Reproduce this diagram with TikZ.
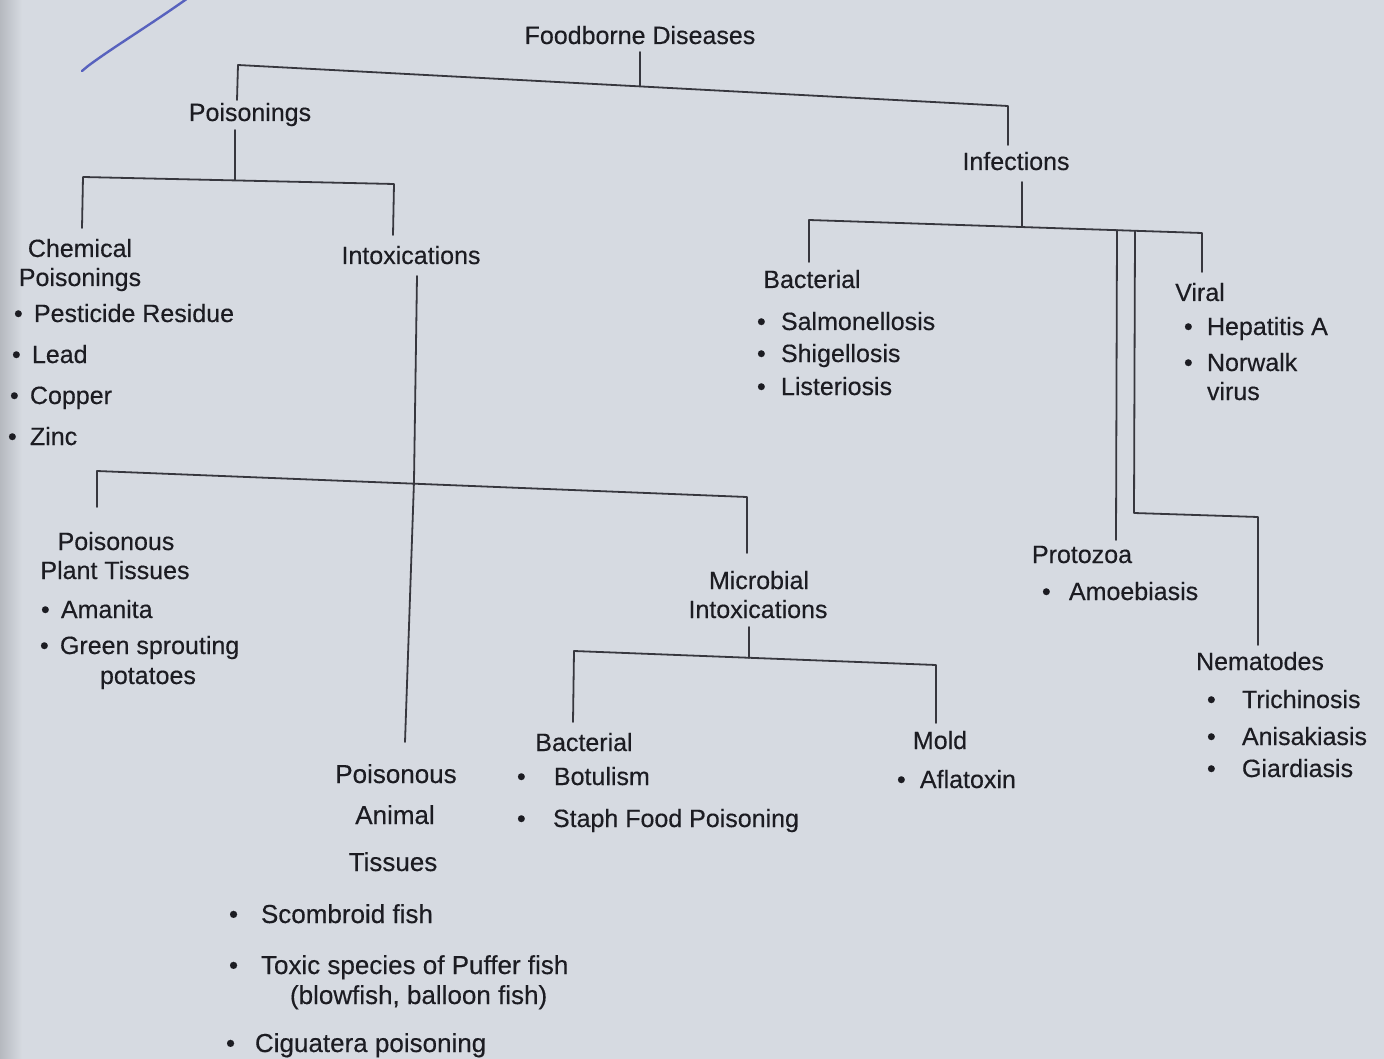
\documentclass[tikz,border=0pt]{standalone}
\usepackage{fontspec}
\setmainfont[FakeBold=0.35]{Liberation Sans}
\definecolor{pagebg}{RGB}{214,218,225}
\definecolor{ink}{RGB}{28,28,34}
\definecolor{rule}{RGB}{55,55,62}
\definecolor{pen}{RGB}{88,98,190}
\newcommand{\bul}[2]{\makebox[#1pt][l]{•}#2}
\begin{document}
\begin{tikzpicture}[x=1pt,y=-1pt,
  lbl/.style={inner sep=0pt,outer sep=0pt,text=ink,font=\fontsize{25}{29}\selectfont},
  big/.style={font=\fontsize{26}{30}\selectfont},
  hd/.style={lbl,anchor=base},
  itm/.style={lbl,anchor=base west},
  conn/.style={draw=rule,line width=1.8pt,line cap=round,line join=round}]
\useasboundingbox (0,0) rectangle (1384,1059);
\fill[pagebg] (0,0) rectangle (1384,1059);
\shade[left color=pagebg!85!black, right color=pagebg] (0,0) rectangle (22,1059);
% pen mark
\draw[pen,line width=2.4pt,line cap=round] (188,-2) .. controls (150,25) and (112,48) .. (88,66) -- (82,71);

% ---------- nodes ----------
\node[hd] (root) at (640,44) {Foodborne Diseases};
\node[hd] (pois) at (250,121) {Poisonings};
\node[hd] (inf) at (1016,170) {Infections};
\node[hd] (chemA) at (80,257) {Chemical};
\node[hd] (chemB) at (80,286) {Poisonings};
\node[hd] (intox) at (411,264) {Intoxications};
\node[itm] (c1) at (14,322) {\bul{20}{Pesticide Residue}};
\node[itm] (c2) at (12,363) {\bul{20}{Lead}};
\node[itm] (c3) at (10,404) {\bul{20}{Copper}};
\node[itm] (c4) at (8,445) {\bul{22}{Zinc}};

\node[hd] (bacI) at (812,288) {Bacterial};
\node[itm] (b1) at (757,330) {\bul{24}{Salmonellosis}};
\node[itm] (b2) at (757,362) {\bul{24}{Shigellosis}};
\node[itm] (b3) at (757,395) {\bul{24}{Listeriosis}};

\node[hd] (viral) at (1200,301) {Viral};
\node[itm] (v1) at (1184,335) {\bul{23}{Hepatitis A}};
\node[itm] (v2) at (1184,371) {\bul{23}{Norwalk}};
\node[itm] (v3) at (1207,400) {virus};

\node[hd] (proto) at (1082,563) {Protozoa};
\node[itm] (p1) at (1042,600) {\bul{27}{Amoebiasis}};

\node[hd] (nema) at (1260,670) {Nematodes};
\node[itm] (n1) at (1207,708) {\bul{35}{Trichinosis}};
\node[itm] (n2) at (1207,745) {\bul{35}{Anisakiasis}};
\node[itm] (n3) at (1207,777) {\bul{35}{Giardiasis}};

\node[hd] (plantA) at (116,550) {Poisonous};
\node[hd] (plantB) at (115,579) {Plant Tissues};
\node[itm] (pl1) at (41,618) {\bul{20}{Amanita}};
\node[itm] (pl2) at (40,654) {\bul{20}{Green sprouting}};
\node[itm] (pl3) at (100,684) {potatoes};

\node[hd] (microA) at (759,589) {Microbial};
\node[hd] (microB) at (758,618) {Intoxications};
\node[hd] (bacM) at (584,751) {Bacterial};
\node[itm] (m1) at (517,785) {\bul{37}{Botulism}};
\node[itm] (m2) at (517,827) {\bul{36}{Staph Food Poisoning}};
\node[hd] (mold) at (940,749) {Mold};
\node[itm] (mo1) at (897,788) {\bul{23}{Aflatoxin}};

\node[hd,big] (animA) at (396,783) {Poisonous};
\node[hd,big] (animB) at (395,824) {Animal};
\node[hd,big] (animC) at (393,871) {Tissues};
\node[itm,big] (a1) at (229,923) {\bul{32}{Scombroid fish}};
\node[itm,big] (a2) at (229,974) {\bul{32}{Toxic species of Puffer fish}};
\node[itm,big] (a2b) at (290,1004) {(blowfish, balloon fish)};
\node[itm,big] (a3) at (226,1052) {\bul{29}{Ciguatera poisoning}};

% ---------- junction coordinates ----------
\coordinate (rootS) at (640,52);
\coordinate (rootJ) at (640,86);
\coordinate (barL) at (238,65);
\coordinate (barR) at (1008,106);
\coordinate (poisN) at (237,100);
\coordinate (infN) at (1008,145);

\coordinate (poisS) at (235,130);
\coordinate (poisJ) at (235,180);
\coordinate (pbarL) at (83,177);
\coordinate (pbarR) at (394,184);
\coordinate (chemN) at (82,228);
\coordinate (intoxN) at (393,235);

\coordinate (infS) at (1022,182);
\coordinate (infJ) at (1022,227);
\coordinate (ibarL) at (809,220);
\coordinate (ibarR) at (1202,233);
\coordinate (ibarP) at (1117,230);
\coordinate (ibarQ) at (1135,231);
\coordinate (bacIN) at (809,262);
\coordinate (viralN) at (1202,272);
\coordinate (protoN) at (1116,540);
\coordinate (nemaK1) at (1134,513);
\coordinate (nemaK2) at (1258,517);
\coordinate (nemaN) at (1258,645);

\coordinate (intoxS) at (417,276);
\coordinate (intoxJ) at (414,481);
\coordinate (xbarL) at (97,471);
\coordinate (xbarR) at (747,497);
\coordinate (plantN) at (97,507);
\coordinate (microN) at (747,553);
\coordinate (animN) at (405,742);

\coordinate (microS) at (749,627);
\coordinate (microJ) at (749,658);
\coordinate (mbarL) at (574,651);
\coordinate (mbarR) at (936,665);
\coordinate (bacMN) at (573,722);
\coordinate (moldN) at (936,723);

% ---------- connectors ----------
\draw[conn] (rootS) -- (rootJ);
\draw[conn] (poisN) -- (barL) -- (barR) -- (infN);

\draw[conn] (poisS) -- (poisJ);
\draw[conn] (chemN) -- (pbarL) -- (pbarR) -- (intoxN);

\draw[conn] (infS) -- (infJ);
\draw[conn] (bacIN) -- (ibarL) -- (ibarR) -- (viralN);
\draw[conn] (ibarP) -- (protoN);
\draw[conn] (ibarQ) -- (nemaK1) -- (nemaK2) -- (nemaN);

\draw[conn] (intoxS) -- (intoxJ) -- (animN);
\draw[conn] (plantN) -- (xbarL) -- (xbarR) -- (microN);

\draw[conn] (microS) -- (microJ);
\draw[conn] (bacMN) -- (mbarL) -- (mbarR) -- (moldN);
\end{tikzpicture}
\end{document}
